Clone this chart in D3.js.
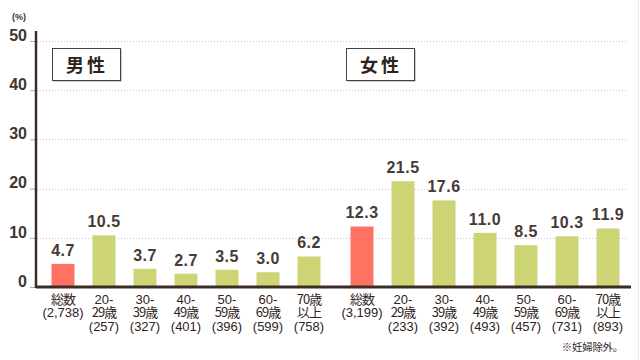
<!DOCTYPE html>
<html><head><meta charset="utf-8">
<script src="https://cdn.jsdelivr.net/npm/d3@7"></script>
<style>
html,body{margin:0;padding:0;background:#fff;}
svg{display:block;}
</style></head>
<body>
<svg id="c" width="640" height="360"></svg>
<script>
const groups = ["男性", "女性"];
const categories = ["総数", "20-29歳", "30-39歳", "40-49歳", "50-59歳", "60-69歳", "70歳以上"];
const catLines = [["総数"], ["20-", "29歳"], ["30-", "39歳"], ["40-", "49歳"], ["50-", "59歳"], ["60-", "69歳"], ["70歳", "以上"]];
const maleValues = [4.7, 10.5, 3.7, 2.7, 3.5, 3.0, 6.2];
const femaleValues = [12.3, 21.5, 17.6, 11.0, 8.5, 10.3, 11.9];
const maleCounts = ["(2,738)", "(257)", "(327)", "(401)", "(396)", "(599)", "(758)"];
const femaleCounts = ["(3,199)", "(233)", "(392)", "(493)", "(457)", "(731)", "(893)"];
const yTicks = [0, 10, 20, 30, 40, 50];

const svg = d3.select("#c");
const dark = "#3b2c26";
const y = d3.scaleLinear().domain([0, 50]).range([287, 41]);

// right border
svg.append("line").attr("x1", 638.5).attr("x2", 638.5).attr("y1", 0).attr("y2", 360)
  .attr("stroke", "#ebebeb").attr("stroke-width", 1);

// gridlines
svg.append("g").selectAll("line").data(yTicks.filter(d => d > 0)).join("line")
  .attr("x1", 37).attr("x2", 628)
  .attr("y1", d => Math.round(y(d)) + 0.5).attr("y2", d => Math.round(y(d)) + 0.5)
  .attr("stroke", "#c8c8c8").attr("stroke-width", 1).attr("stroke-dasharray", "1,2");

// y axis
const yAxis = d3.axisLeft(y).tickValues(yTicks).tickSizeInner(5).tickSizeOuter(0).tickPadding(3);
const ga = svg.append("g").attr("transform", "translate(35,0)").call(yAxis);
ga.select(".domain").remove();
ga.selectAll(".tick line").attr("stroke", "#aaa").attr("stroke-width", 1);
ga.selectAll(".tick text")
  .attr("font-family", "'Liberation Sans', Arial, sans-serif")
  .attr("font-weight", "bold").attr("font-size", 16).attr("fill", "#3f3632")
  .attr("dy", "-0.05em").attr("x", -8);

svg.append("line").attr("x1", 36).attr("x2", 36).attr("y1", 31).attr("y2", 288)
  .attr("stroke", dark).attr("stroke-width", 2.5);

// (%)
svg.append("text").attr("x", 12).attr("y", 20).text("(%)")
  .attr("font-family", "'Liberation Sans', Arial, sans-serif").attr("font-size", 9)
  .attr("font-weight", "bold").attr("fill", "#3f3632");

function drawGroup(name, values, counts, x0, x1, box) {
  const x = d3.scaleBand().domain(categories).range([x0, x1]).paddingInner(0.44).paddingOuter(0.22);
  const g = svg.append("g");
  const data = categories.map((c, i) => ({ c, v: values[i], n: counts[i], lines: catLines[i], i }));
  g.selectAll("rect").data(data).join("rect")
    .attr("x", d => x(d.c)).attr("width", x.bandwidth())
    .attr("y", d => y(d.v)).attr("height", d => y(0) - y(d.v))
    .attr("fill", d => d.i === 0 ? "#ff7262" : "#cdd474");
  g.selectAll("text.val").data(data).join("text").attr("class", "val")
    .attr("x", d => x(d.c) + x.bandwidth() / 2).attr("y", d => y(d.v) - 8)
    .attr("text-anchor", "middle").text(d => d.v.toFixed(1))
    .attr("font-family", "'Liberation Sans', Arial, sans-serif").attr("font-weight", "bold")
    .attr("font-size", 16).attr("letter-spacing", "0.5").attr("fill", "#473a35");
  const lab = g.selectAll("text.cat").data(data).join("text").attr("class", "cat")
    .attr("text-anchor", "middle")
    .attr("font-family", "'Liberation Sans', 'Noto Sans CJK JP', sans-serif")
    .attr("font-size", 13).attr("fill", "#2f2320");
  lab.each(function (d) {
    const t = d3.select(this);
    const cx = x(d.c) + x.bandwidth() / 2;
    const lines = d.lines.concat([d.n]);
    lines.forEach((l, k) => {
      t.append("tspan").attr("x", cx).attr("y", 303.5 + k * 13.5).text(l)
        .attr("font-family", /[\u3000-\u9fff]/.test(l) ? "'Noto Sans CJK JP', sans-serif" : "'Liberation Sans', Arial, sans-serif")
        .attr("letter-spacing", /[\u3000-\u9fff]/.test(l) ? "-1" : "0");
    });
  });
  // group label box
  svg.append("rect").attr("x", box[0] + 1.5).attr("y", 49.5).attr("width", 68).attr("height", 32)
    .attr("fill", "#999");
  svg.append("rect").attr("x", box[0] + 0.5).attr("y", 48.5).attr("width", 68).attr("height", 32)
    .attr("fill", "#fff").attr("stroke", "#444").attr("stroke-width", 1);
  svg.append("text").attr("x", box[0] + 35).attr("y", 72).attr("text-anchor", "middle")
    .text(name).attr("font-family", "'Noto Sans CJK JP', sans-serif").attr("font-weight", "bold")
    .attr("font-size", 18).attr("letter-spacing", "3").attr("fill", "#2f2320");
}

drawGroup(groups[0], maleValues, maleCounts, 42.5, 329.5, [52]);
drawGroup(groups[1], femaleValues, femaleCounts, 341.5, 628.5, [346]);

// x axis baseline
svg.append("line").attr("x1", 36).attr("x2", 631).attr("y1", 287).attr("y2", 287)
  .attr("stroke", dark).attr("stroke-width", 3);

svg.append("text").attr("x", 623).attr("y", 351).attr("text-anchor", "end").text("※妊婦除外。")
  .attr("font-family", "'Noto Sans CJK JP', sans-serif").attr("font-size", 10.5)
  .attr("letter-spacing", "-0.3").attr("fill", "#2f2320");
</script>
</body></html>
